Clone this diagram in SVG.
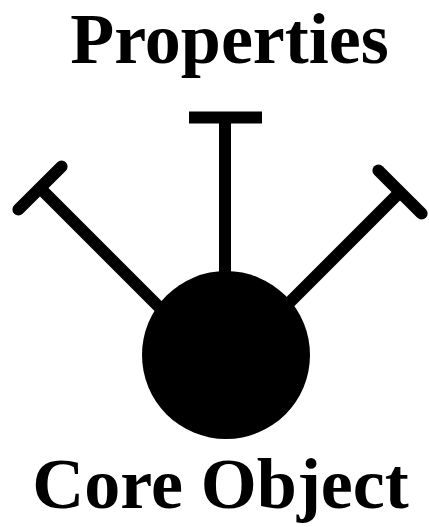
<svg xmlns="http://www.w3.org/2000/svg" width="429" height="527" viewBox="0 0 429 527">
  <style>
    .lbl { font-family: "Liberation Serif", "Times New Roman", serif; font-weight: bold; font-size: 72px; fill: #000; text-anchor: middle; }
    .arm { stroke: #000; stroke-width: 12; fill: none; }
    .rnd { stroke-linecap: round; }
  </style>
  <rect width="429" height="527" fill="#fff"/>
  <g id="connectors">
    <line class="arm" x1="225" y1="117" x2="225" y2="300"/>
    <line class="arm" x1="189" y1="117.5" x2="262" y2="117.5"/>
    <line class="arm" x1="40" y1="188" x2="168" y2="316"/>
    <line class="arm rnd" x1="61.6" y1="166.4" x2="18.4" y2="209.6"/>
    <line class="arm" x1="400" y1="192" x2="284" y2="308"/>
    <line class="arm rnd" x1="378.4" y1="170.4" x2="421.6" y2="213.6"/>
  </g>
  <g id="properties">
    <text class="lbl" x="229.5" y="63">Properties</text>
  </g>
  <g id="core-object">
    <circle cx="226" cy="355" r="84" fill="#000"/>
    <text class="lbl" x="220.5" y="508">Core Object</text>
  </g>
</svg>
